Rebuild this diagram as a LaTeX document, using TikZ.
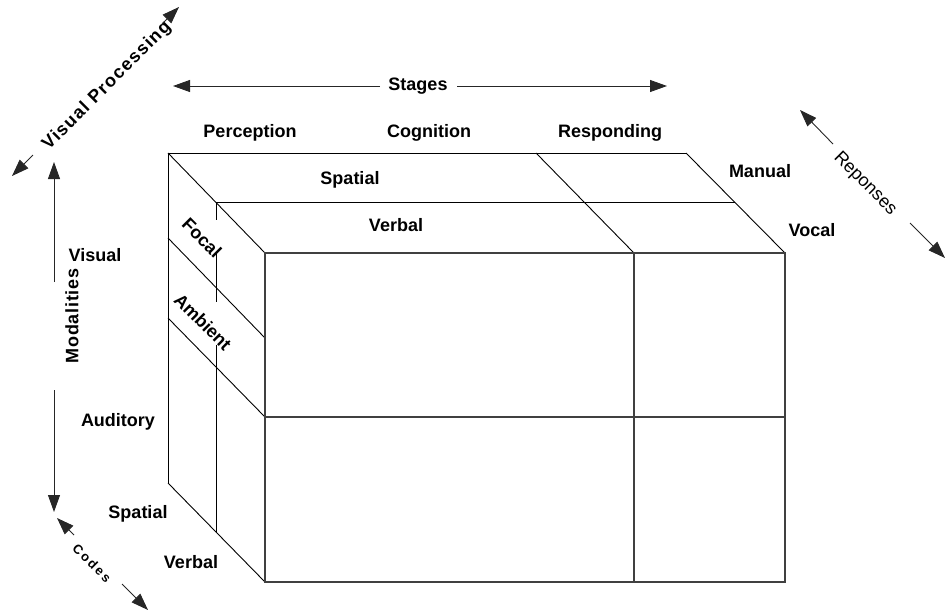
\documentclass[tikz,border=0pt]{standalone}
\usepackage{fontspec}
\setmainfont{Liberation Sans}
\usetikzlibrary{arrows.meta}
\begin{document}
\begin{tikzpicture}[x=1pt,y=-1pt,
  lbl/.style={font=\fontsize{18}{20}\selectfont\bfseries, inner sep=0pt, anchor=base},
  rlbl/.style={font=\fontsize{18}{20}\selectfont\bfseries, inner sep=0pt, anchor=center},
  cube/.style={line width=0.9pt, black},
  frontface/.style={line width=1.3pt, black!75},
  arrline/.style={line width=0.9pt, black!85},
  tip/.style={arrline, -{Triangle[length=17pt,width=12pt]}}]
\useasboundingbox (0,0) rectangle (946,611);

% ---- cube back/left/top lines
\draw[cube] (168,153) -- (686,153);
\draw[cube] (168,153) -- (168,483);
\draw[cube] (168,153) -- (265,253);
\draw[cube] (686,153) -- (785,253);
\draw[cube] (536,153) -- (634,253);
\draw[cube] (168,483) -- (265,582);
\draw[cube] (168,238) -- (265,338);
\draw[cube] (168,318) -- (265,417);
\draw[cube] (216,202) -- (735,202);
\draw[cube] (216,202) -- (216,220);
\draw[cube] (216,253) -- (216,302);
\draw[cube] (216,345) -- (216,532);

% ---- front face
\draw[frontface] (265,253) rectangle (785,582);
\draw[frontface] (634,253) -- (634,582);
\draw[frontface] (265,417) -- (785,417);

% ---- labels
\node[lbl] (perc) at (250,137) {Perception};
\node[lbl] (cogn) at (429,137) {Cognition};
\node[lbl] (resp) at (610,137) {Responding};
\node[lbl] (tspat) at (350,184) {Spatial};
\node[lbl] (tverb) at (396,231) {Verbal};
\node[lbl] (manual) at (760,177) {Manual};
\node[lbl] (vocal) at (812,236) {Vocal};
\node[lbl] (visual) at (95,261) {Visual};
\node[lbl] (audit) at (118,426) {Auditory};
\node[lbl] (lspat) at (138,518) {Spatial};
\node[lbl] (lverb) at (191,568) {Verbal};
\node[rlbl, rotate=-45] (focal) at (202,238) {Focal};
\node[rlbl, rotate=-45] (ambient) at (203,322) {Ambient};

% ---- Stages arrow
\coordinate (stL) at (173,86);
\coordinate (stR) at (667,86);
\node[rlbl] (stages) at (418,86) {Stages};
\draw[tip] (380,86) -- (stL);
\draw[tip] (457,86) -- (stR);

% ---- Visual Processing arrow
\coordinate (vpA) at (12,176);
\coordinate (vpB) at (179,7);
\node[rlbl, rotate=45] (vproc) at (107,86) {\addfontfeature{LetterSpace=7}Visual Processing};
\draw[tip] (33,155) -- (vpA);
\draw[tip] (162,24) -- (vpB);

% ---- Modalities arrow
\coordinate (moT) at (54,162);
\coordinate (moB) at (54,512);
\node[rlbl, rotate=90] (modal) at (72,316) {\addfontfeature{LetterSpace=4}Modalities};
\draw[tip] (54,282) -- (moT);
\draw[tip] (54,390) -- (moB);

% ---- Reponses arrow
\coordinate (reA) at (800,110);
\coordinate (reB) at (945,258);
\node[rlbl, font=\fontsize{18}{20}\selectfont, rotate=-45] (repon) at (865,184) {Reponses};
\draw[tip] (833,144) -- (reA);
\draw[tip] (910,223) -- (reB);

% ---- Codes arrow
\coordinate (coA) at (57,518);
\coordinate (coB) at (148,610);
\node[rlbl, font=\fontsize{13}{15}\selectfont\bfseries, rotate=-45] (codes) at (92,563) {C\,o\,d\,e\,s};
\draw[tip] (74,535) -- (coA);
\draw[tip] (122,584) -- (coB);
\end{tikzpicture}
\end{document}
